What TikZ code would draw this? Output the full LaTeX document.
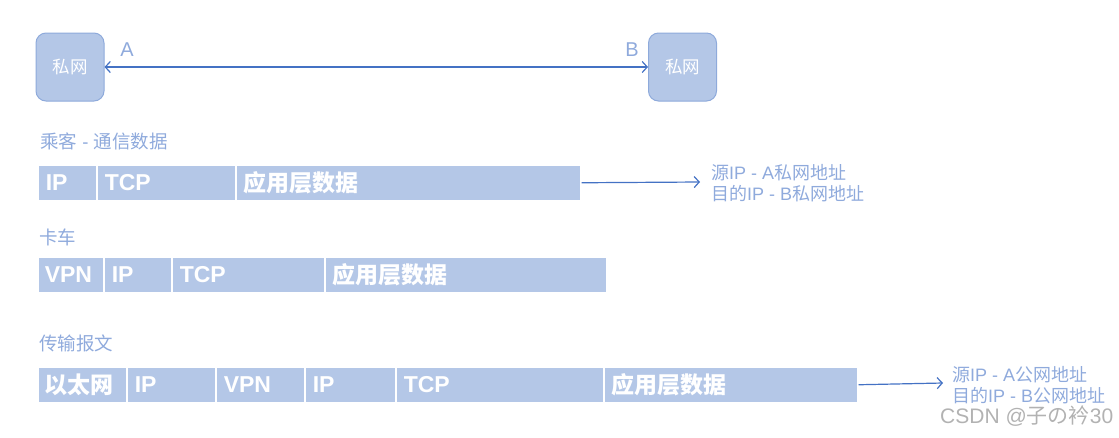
\documentclass[tikz,border=0pt]{standalone}
\usepackage{fontspec}
\setmainfont{Liberation Sans}
\newfontfamily\cjk{Noto Sans CJK SC}
\usetikzlibrary{arrows.meta}
\definecolor{cellblue}{HTML}{B4C7E7}
\definecolor{boxedge}{HTML}{8EAADB}
\definecolor{linkblue}{HTML}{4472C4}
\definecolor{lbl}{HTML}{8FAADC}
\tikzset{
  host/.style={rectangle, rounded corners=10pt, fill=cellblue, draw=boxedge, line width=1pt,
    minimum width=68pt, minimum height=68pt, text=white, font=\cjk\fontsize{17.5}{17.5}\selectfont},
  cell/.style={rectangle, fill=cellblue, draw=white, line width=1.5pt, anchor=north west,
    minimum height=36pt, inner xsep=8pt, inner ysep=0pt, text=white, align=left,
    font=\bfseries\fontsize{23}{23}\selectfont},
  title/.style={anchor=west, inner sep=0pt, text=lbl, font=\fontsize{18.5}{18.5}\selectfont},
  note/.style={anchor=west, inner sep=0pt, text=lbl, align=left, font=\fontsize{18}{21}\selectfont},
  link/.style={draw=linkblue, line width=1.2pt},
  tip/.style={-{Straight Barb[length=5pt,width=11pt]}},
}
\begin{document}
\begin{tikzpicture}[x=1pt,y=-1pt]
\useasboundingbox (0,0) rectangle (1119,437);
% hosts
\node[host] (hA) at (70,67) {私网};
\node[host] (hB) at (682.5,67) {私网};
\draw[link,{Straight Barb[length=5pt,width=11pt]}-{Straight Barb[length=5pt,width=11pt]}] (hA.east) -- (hB.west);
\node[text=lbl, font=\fontsize{20}{20}\selectfont, inner sep=0pt] (lA) at (127,50) {A};
\node[text=lbl, font=\fontsize{20}{20}\selectfont, inner sep=0pt] (lB) at (632,50) {B};
% passenger
\node[title] (t1) at (40,141) {{\cjk 乘客} - {\cjk 通信数据}};
\node[cell, minimum width=59pt, text width=43pt] (r1a) at (37,164) {IP};
\node[cell, minimum width=139pt, text width=123pt] (r1b) at (96,164) {TCP};
\node[cell, minimum width=345pt, text width=329pt] (r1c) at (235,164) {\cjk 应用层数据};
\coordinate (e1) at (700,182);
\draw[link,tip] (r1c.east) -- (e1);
\node[note] (n1) at (711,183) {{\cjk 源}IP - A{\cjk 私网地址}\\{\cjk 目的}IP - B{\cjk 私网地址}};
% truck
\node[title] (t2) at (39,237) {\cjk 卡车};
\node[cell, minimum width=66pt, text width=52pt, inner xsep=7pt] (r2a) at (37,256) {VPN};
\node[cell, minimum width=68pt, text width=52pt] (r2b) at (103,256) {IP};
\node[cell, minimum width=153pt, text width=137pt] (r2c) at (171,256) {TCP};
\node[cell, minimum width=282pt, text width=266pt] (r2d) at (324,256) {\cjk 应用层数据};
% transport
\node[title] (t3) at (39,343) {\cjk 传输报文};
\node[cell, minimum width=89pt, text width=75pt, inner xsep=7pt] (r3a) at (37,366) {\cjk 以太网};
\node[cell, minimum width=89pt, text width=73pt] (r3b) at (126,366) {IP};
\node[cell, minimum width=89pt, text width=73pt] (r3c) at (215,366) {VPN};
\node[cell, minimum width=91pt, text width=75pt] (r3d) at (304,366) {IP};
\node[cell, minimum width=208pt, text width=192pt] (r3e) at (395,366) {TCP};
\node[cell, minimum width=254pt, text width=238pt] (r3f) at (603,366) {\cjk 应用层数据};
\coordinate (e3) at (943,383);
\draw[link,tip] (r3f.east) -- (e3);
\node[note] (n3) at (952,385) {{\cjk 源}IP - A{\cjk 公网地址}\\{\cjk 目的}IP - B{\cjk 公网地址}};
% watermark
\node[anchor=west, inner sep=0pt, text=black!30, font=\fontsize{21}{21}\selectfont] (wm) at (940,416) {CSDN @{\cjk 子の衿}30};
\end{tikzpicture}
\end{document}
